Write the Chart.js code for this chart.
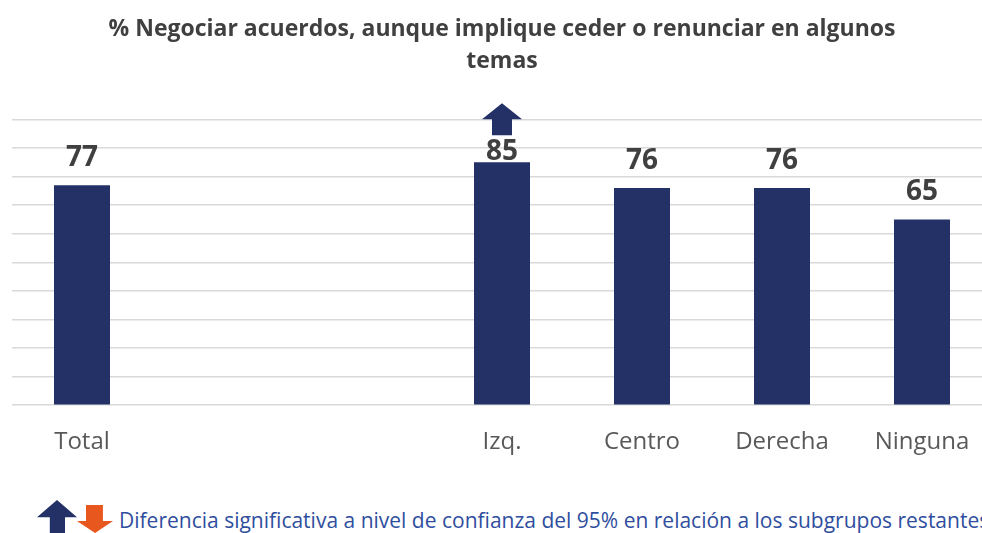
<!DOCTYPE html>
<html>
<head>
<meta charset="utf-8">
<script src="https://cdn.jsdelivr.net/npm/chart.js@4.4.0/dist/chart.umd.min.js"></script>
<style>
    html, body { margin: 0; padding: 0; background: #fff; overflow: hidden; width: 982px; height: 533px; }
    #wrap { position: absolute; left: 0; top: 0; width: 1004px; height: 472px; }
    #note { position: absolute; left: 37px; top: 500px; width: 1100px; height: 33px; white-space: nowrap; }
    .up { position: absolute; left: 0; top: 0; width: 40px; height: 33px; background: #233167;
          clip-path: polygon(50% 0, 100% 52%, 70% 52%, 70% 100%, 32% 100%, 32% 52%, 0 52%); }
    .down { position: absolute; left: 40px; top: 5px; width: 36px; height: 28px; background: #e8571e;
            clip-path: polygon(25% 0, 72% 0, 72% 57%, 100% 57%, 50% 100%, 0 57%, 25% 57%); }
    .txt { position: absolute; left: 82px; top: 7px; font-family: "Open Sans", sans-serif; font-size: 21px;
           color: #2f4e9e; line-height: 26px; }
</style>
</head>
<body>
<div id="wrap"><canvas id="chart"></canvas></div>
<div id="note"><div class="up"></div><div class="down"></div><span class="txt">Diferencia significativa a nivel de confianza del 95% en relación a los subgrupos restantes</span></div>
<script>
document.addEventListener('DOMContentLoaded', () => {
    const titleLines = ['% Negociar acuerdos, aunque implique ceder o renunciar en algunos', 'temas'];
    const categories = ['Total', '', '', 'Izq.', 'Centro', 'Derecha', 'Ninguna'];
    const values = [77, null, null, 85, 76, 76, 65];
    // 'up' / 'down' marks significant difference, null otherwise
    const significance = [null, null, null, 'up', null, null, null];

    const barColor = '#233167';

    // value labels and significance arrows above the bars
    const labelPlugin = {
        id: 'barLabels',
        afterDatasetsDraw(chart) {
            const ctx = chart.ctx;
            const meta = chart.getDatasetMeta(0);
            ctx.save();
            meta.data.forEach((bar, i) => {
                if (values[i] === null) return;
                const x = bar.x;
                const top = bar.y;
                let labelY = top - 27;
                if (significance[i]) {
                    labelY = top - 10;
                    const base = top - 27;
                    ctx.fillStyle = significance[i] === 'up' ? barColor : '#e8571e';
                    ctx.beginPath();
                    if (significance[i] === 'up') {
                        ctx.moveTo(x - 10, base);
                        ctx.lineTo(x - 10, base - 16);
                        ctx.lineTo(x - 20, base - 16);
                        ctx.lineTo(x, base - 32);
                        ctx.lineTo(x + 20, base - 16);
                        ctx.lineTo(x + 10, base - 16);
                        ctx.lineTo(x + 10, base);
                    } else {
                        ctx.moveTo(x - 10, base - 32);
                        ctx.lineTo(x + 10, base - 32);
                        ctx.lineTo(x + 10, base - 16);
                        ctx.lineTo(x + 20, base - 16);
                        ctx.lineTo(x, base);
                        ctx.lineTo(x - 20, base - 16);
                        ctx.lineTo(x - 10, base - 16);
                    }
                    ctx.closePath();
                    ctx.fill();
                }
                ctx.fillStyle = '#404040';
                ctx.font = 'bold 28px "Open Sans", sans-serif';
                ctx.textAlign = 'center';
                ctx.textBaseline = 'middle';
                ctx.fillText(String(values[i]), x, labelY);
            });
            ctx.restore();
        }
    };

    const ctx = document.getElementById('chart').getContext('2d');
    const chart = new Chart(ctx, {
        type: 'bar',
        data: {
            labels: categories,
            datasets: [{
                data: values,
                backgroundColor: barColor,
                barPercentage: 0.4,
                categoryPercentage: 1
            }]
        },
        options: {
            responsive: true,
            maintainAspectRatio: false,
            animation: false,
            layout: { padding: { left: 12, right: 12, top: 0, bottom: 0 } },
            plugins: {
                legend: { display: false },
                tooltip: { enabled: false },
                title: {
                    display: true,
                    text: titleLines,
                    color: '#404040',
                    font: { family: '"Open Sans", sans-serif', size: 23, weight: 'bold', lineHeight: 1.4 },
                    padding: { top: 13, bottom: 42 }
                }
            },
            scales: {
                x: {
                    grid: { display: false },
                    border: { display: false },
                    ticks: {
                        color: '#595959',
                        padding: 15,
                        font: { family: '"Open Sans", sans-serif', size: 24 }
                    }
                },
                y: {
                    min: 0,
                    max: 100,
                    border: { display: false },
                    grid: { color: '#d9d9d9', lineWidth: 1.5, drawTicks: false },
                    ticks: { display: false, stepSize: 10 }
                }
            }
        },
        plugins: [labelPlugin]
    });
});
</script>
</body>
</html>
